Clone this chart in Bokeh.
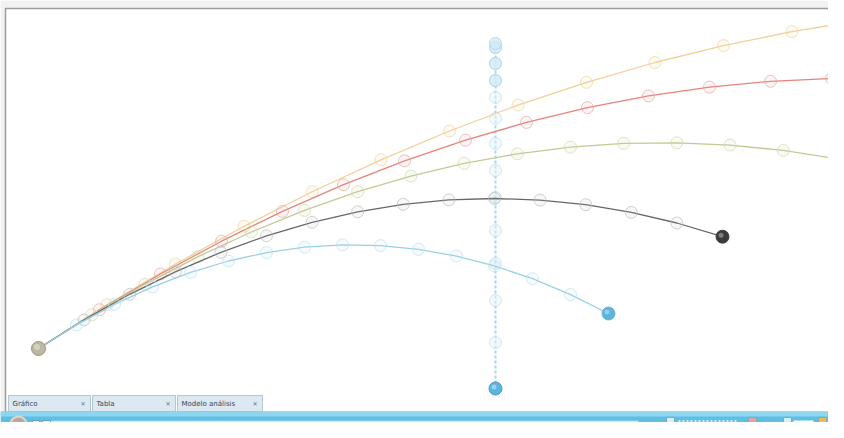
from bokeh.plotting import figure
from bokeh.models import Range1d, Label
from bokeh.embed import file_html
from bokeh.resources import INLINE

# Projectile positions (horizontal distance, height) sampled at equal time steps,
# read from the picture. Launch point is (0, 0).
yellow_d = [0, 68.5, 137, 205.5, 274, 342.5, 411, 479.5, 548, 616.5, 685, 753.5, 797]
yellow_h = [0, 43.7, 84.5, 122.2, 157.0, 188.7, 217.5, 243.4, 266.2, 286.0, 302.9, 316.8, 324.0]

red_d = [0, 61, 122, 183, 244, 305, 366, 427, 488, 549, 610, 671, 732, 793, 797]
red_h = [0, 38.8, 74.5, 107.3, 137.1, 163.8, 187.6, 208.3, 226.1, 240.9, 252.6, 261.4, 267.2, 270.0, 270.0]

green_d = [0, 53.2, 106.4, 159.6, 212.8, 266, 319.2, 372.4, 425.6, 478.8, 532, 585.2, 638.4, 691.6, 744.8, 797]
green_h = [0, 33.6, 64.2, 91.9, 116.5, 138.1, 156.8, 172.4, 185.1, 194.7, 201.4, 205.1, 205.7, 203.4, 198.1, 190.0]

gray_d = [0, 45.6, 91.2, 136.8, 182.4, 228, 273.6, 319.2, 364.8, 410.4, 456, 501.6, 547.2, 592.8, 638.4, 684]
gray_h = [0, 28.6, 54.2, 76.7, 96.2, 112.7, 126.2, 136.7, 144.2, 148.6, 150.0, 148.4, 143.8, 136.1, 125.5, 111.8]

blue_d = [0, 38, 76, 114, 152, 190, 228, 266, 304, 342, 380, 418, 456, 494, 532, 570]
blue_h = [0, 23.6, 44.1, 61.6, 76.1, 87.5, 95.9, 101.3, 103.6, 102.9, 99.2, 92.4, 82.6, 69.8, 53.9, 35.0]

vert_d = [457] * 14
vert_h = [-40, 6, 48, 85, 118, 151, 178, 205, 230, 251, 268, 285, 301, 305]

tab_labels = ["Gráfico", "Tabla", "Modelo análisis"]

series = [
    (yellow_d, yellow_h, "#f3d098", "#e9d6a0", "#e8c27a", False),
    (red_d, red_h, "#e8837a", "#e5a8a4", "#d8605a", False),
    (green_d, green_h, "#c2ca92", "#d2d8ae", "#a9b46a", True),
    (gray_d, gray_h, "#666666", "#bdbdbd", "#3a3a3a", True),
    (blue_d, blue_h, "#9ad0e5", "#bde0ee", "#5fb3da", True),
]

p = figure(width=828, height=422, output_backend="svg", toolbar_location=None,
           x_range=Range1d(-38, 790), y_range=Range1d(-74, 348),
           min_border=0, background_fill_color="white", border_fill_color="white")
p.axis.visible = False
p.grid.visible = False
p.outline_line_color = None

# window chrome around the plot area
p.quad(left=[-38, -38], right=[790, -33], bottom=[340, -74], top=[348, 348],
       fill_color="#f2f2f2", line_color=None)
p.line([-33, -33, 790], [-74, 340, 340], line_color="#9c9c9c", line_width=1.5)

# vertical throw
p.line(vert_d, vert_h, line_color="#a9d7ec", line_width=2, line_dash="3 2")
p.scatter(vert_d[1:-1], vert_h[1:-1], size=12, fill_color="#e6f4fa", fill_alpha=0.5,
          line_color="#b4d8e8", line_alpha=0.6)
p.scatter(vert_d[-4:], vert_h[-4:], size=12, fill_color="#cfe9f5", fill_alpha=0.7,
          line_color="#b4d8e8")

for d, h, lc, mc, ec, show_end in series:
    p.line(d, h, line_color=lc, line_width=1.3)
    p.scatter(d[1:-1], h[1:-1], size=12, fill_color=mc, fill_alpha=0.12,
              line_color=mc, line_alpha=0.7, line_width=1)
    if show_end:
        p.scatter([d[-1]], [h[-1]], size=13, fill_color=ec, line_color=ec, line_alpha=0.9)
        p.scatter([d[-1] - 1.5], [h[-1] + 1.5], size=5, fill_color="white", fill_alpha=0.35,
                  line_alpha=0)

# dropped ball end point
p.scatter([vert_d[0]], [vert_h[0]], size=13, fill_color="#5cb5dc", line_color="#4a9cc4")
p.scatter([vert_d[0] - 1.5], [vert_h[0] + 1.5], size=5, fill_color="white", fill_alpha=0.4,
          line_alpha=0)

# launch point
p.scatter([0], [0], size=14, fill_color="#bdb9a0", line_color="#9a9680")
p.scatter([-1.5], [1.5], size=6, fill_color="white", fill_alpha=0.35, line_alpha=0)

# tabs
tab_left = [-30, 54, 139]
tab_right = [52, 137, 224]
p.quad(left=tab_left, right=tab_right, bottom=[-63] * 3, top=[-47] * 3,
       fill_color="#dde9f1", line_color="#b4c6d2", line_width=1)
for l, r, t in zip(tab_left, tab_right, tab_labels):
    p.add_layout(Label(x=l + 4, y=-55, text=t, text_font_size="7px", text_color="#334455",
                       text_baseline="middle", text_font="DejaVu Sans"))
    p.add_layout(Label(x=r - 10, y=-55, text="✕", text_font_size="6px", text_color="#667788",
                       text_baseline="middle", text_font="DejaVu Sans"))

# bottom bar
p.quad(left=[-38], right=[790], bottom=[-90], top=[-63], fill_color="#5fbfe2", line_color=None)
p.quad(left=[-38], right=[790], bottom=[-68], top=[-63], fill_color="#8ed5ef", line_color=None)
p.line([12, 600], [-73, -73], line_color="#c9ecf8", line_width=1.5)
p.scatter([-20], [-76], size=16, fill_color="#b8a898", line_color="#e0d8d0", line_width=2)
p.quad(left=[-6, 4], right=[1, 12], bottom=[-80, -80], top=[-72, -72],
       fill_color="#e8f4fb", line_color="#6a9cc0")
p.quad(left=[628, 710, 745, 780], right=[636, 718, 753, 788],
       bottom=[-78] * 4, top=[-69] * 4,
       fill_color=["#d8eef8", "#e8a0a0", "#d8eef8", "#e8c040"], line_color="#7fa8c4")
p.line([640, 700], [-73, -73], line_color="#c9ecf8", line_width=3, line_dash="2 2")
p.line([755, 775], [-73, -73], line_color="#ffffff", line_width=2)

open("out.html", "w").write(file_html(p, INLINE))
